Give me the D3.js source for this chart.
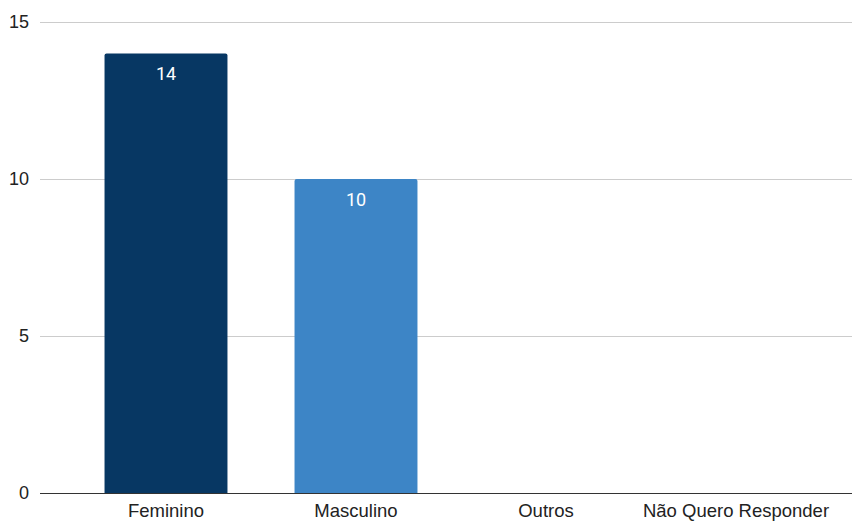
<!DOCTYPE html>
<html><head><meta charset="utf-8">
<script src="https://cdn.jsdelivr.net/npm/d3@7"></script>
<style>html,body{margin:0;padding:0;background:#fff;}svg{display:block;}</style>
</head><body>
<svg id="c" width="852" height="522"></svg>
<script>
const categories = ["Feminino", "Masculino", "Outros", "Não Quero Responder"];
const values = [14, 10, 0, 0];
const yTicks = [0, 5, 10, 15];
const colors = ["#073763", "#3d85c6", "#3d85c6", "#3d85c6"];

(function () {
const svg = d3.select("#c");
const pLeft = 40, pRight = 852, pTop = 22, pBottom = 493;
const x = d3.scaleBand().domain(categories).range([71, 831]).paddingInner(0.353).paddingOuter(0.1765);
const y = d3.scaleLinear().domain([0, 15]).range([pBottom, pTop]);

svg.append("g").selectAll("line").data(yTicks.filter(d => d !== 0)).join("line")
  .attr("x1", pLeft).attr("x2", pRight)
  .attr("y1", d => Math.round(y(d)) + 0.5).attr("y2", d => Math.round(y(d)) + 0.5)
  .attr("stroke", "#cccccc").attr("stroke-width", 1);

svg.append("g").selectAll("text").data(yTicks).join("text")
  .attr("x", 29).attr("y", d => y(d)).attr("dy", "0.35em")
  .attr("text-anchor", "end")
  .attr("font-family", "Liberation Sans, Arial, sans-serif").attr("font-size", 18)
  .attr("fill", "#222").text(d => d);

const r = 2;
function barPath(x0, w, yt, yb) {
  if (yb - yt <= 0) return "";
  return `M${x0},${yb}V${yt + r}Q${x0},${yt} ${x0 + r},${yt}H${x0 + w - r}Q${x0 + w},${yt} ${x0 + w},${yt + r}V${yb}Z`;
}
const data = categories.map((c, i) => ({ c, v: values[i], col: colors[i] }));
svg.append("g").selectAll("path").data(data.filter(d => d.v > 0)).join("path")
  .attr("d", d => barPath(x(d.c), x.bandwidth(), y(d.v), y(0)))
  .attr("fill", d => d.col);

svg.append("g").selectAll("text").data(data.filter(d => d.v > 0)).join("text")
  .attr("x", d => x(d.c) + x.bandwidth() / 2).attr("y", d => y(d.v) + 20.5).attr("dy", "0.35em")
  .attr("text-anchor", "middle")
  .attr("font-family", "Roboto, sans-serif").attr("font-size", 18)
  .attr("fill", "#ffffff").text(d => d.v);

svg.append("line").attr("x1", pLeft).attr("x2", pRight)
  .attr("y1", Math.round(y(0)) + 0.5).attr("y2", Math.round(y(0)) + 0.5)
  .attr("stroke", "#333333").attr("stroke-width", 1);

svg.append("g").selectAll("text").data(categories).join("text")
  .attr("x", d => x(d) + x.bandwidth() / 2).attr("y", 517)
  .attr("text-anchor", "middle")
  .attr("font-family", "Liberation Sans, Arial, sans-serif").attr("font-size", 18.5)
  .attr("fill", "#222").text(d => d);
})();
</script>
</body></html>
